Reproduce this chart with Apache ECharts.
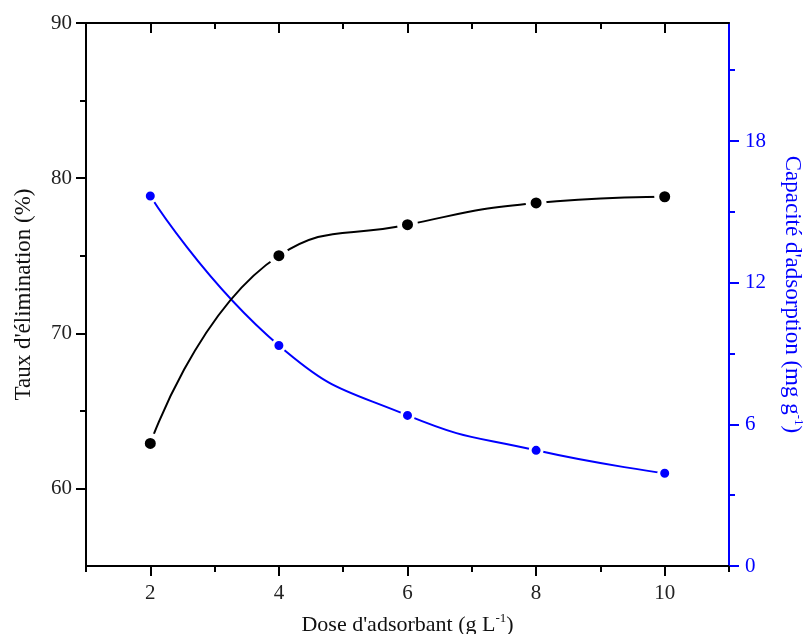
<!DOCTYPE html>
<html>
<head>
<meta charset="utf-8">
<script src="https://cdn.jsdelivr.net/npm/echarts@6/dist/echarts.min.js"></script>
<style>
html,body{margin:0;padding:0;background:#fff;}
#chart{width:807px;height:634px;}
</style>
</head>
<body>
<div id="chart"></div>
<script>
// ---- data ----
const doses = [2, 4, 6, 8, 10];
const removalRate = [62.9, 75.0, 77.0, 78.4, 78.8];
const adsorptionCapacity = [15.67, 9.34, 6.38, 4.9, 3.93];

// ---- tick labels ----
const xTickValues = [2, 4, 6, 8, 10];
const xMinorTickValues = [1, 3, 5, 7, 9, 11];
const leftTickValues = [60, 70, 80, 90];
const leftMinorTickValues = [65, 75, 85];
const rightTickValues = [0, 6, 12, 18];
const rightMinorTickValues = [3, 9, 15, 21];

const FONT = 'Liberation Serif';
const BLUE = '#0000ff';

const chart = echarts.init(document.getElementById('chart'), null, {renderer: 'canvas'});

function tickAxisBase(extra) {
  return Object.assign({
    type: 'value',
    splitLine: {show: false},
    axisLine: {show: false, onZero: false},
    axisLabel: {show: false}
  }, extra);
}

const option = {
  animation: false,
  backgroundColor: '#fff',
  grid: {left: 86, right: 78, top: 23, bottom: 68, containLabel: false, outerBoundsMode: 'none'},
  xAxis: [
    {
      type: 'value', min: 1, max: 11, position: 'bottom',
      splitLine: {show: false},
      axisLine: {show: true, onZero: false, lineStyle: {color: '#000', width: 2}},
      axisTick: {show: true, customValues: xTickValues, length: 10, lineStyle: {color: '#000', width: 2}},
      axisLabel: {show: true, customValues: xTickValues, margin: 17, color: '#222', fontFamily: FONT, fontSize: 21},
      name: '{n|Dose d\'adsorbant (g L}{s|-1}{n|)}',
      nameLocation: 'middle', nameGap: 46,
      nameTextStyle: {
        rich: {
          n: {fontFamily: FONT, fontSize: 22, color: '#111', lineHeight: 24, verticalAlign: 'bottom'},
          s: {fontFamily: FONT, fontSize: 13, color: '#111', lineHeight: 24, verticalAlign: 'top', padding: [0, 0, 10, 0]}
        }
      }
    },
    tickAxisBase({min: 1, max: 11, position: 'bottom',
      axisTick: {show: true, customValues: xMinorTickValues, length: 6, lineStyle: {color: '#000', width: 2}}}),
    {
      type: 'value', min: 1, max: 11, position: 'top',
      splitLine: {show: false},
      axisLine: {show: true, onZero: false, lineStyle: {color: '#000', width: 2}},
      axisTick: {show: true, inside: true, customValues: xTickValues, length: 10, lineStyle: {color: '#000', width: 2}},
      axisLabel: {show: false}
    },
    tickAxisBase({min: 1, max: 11, position: 'top',
      axisTick: {show: true, inside: true, customValues: xMinorTickValues.slice(1, -1), length: 6, lineStyle: {color: '#000', width: 2}}})
  ],
  yAxis: [
    {
      type: 'value', min: 55, max: 90, position: 'left',
      splitLine: {show: false},
      axisLine: {show: true, onZero: false, lineStyle: {color: '#000', width: 2}},
      axisTick: {show: true, customValues: leftTickValues, length: 10, lineStyle: {color: '#000', width: 2}},
      axisLabel: {show: true, customValues: leftTickValues, margin: 14, color: '#222', fontFamily: FONT, fontSize: 21},
      name: 'Taux d\'élimination (%)',
      nameLocation: 'middle', nameGap: 51,
      nameTextStyle: {fontFamily: FONT, fontSize: 23, color: '#111'}
    },
    tickAxisBase({min: 55, max: 90, position: 'left',
      axisTick: {show: true, customValues: leftMinorTickValues, length: 6, lineStyle: {color: '#000', width: 2}}}),
    {
      type: 'value', min: 0, max: 23, position: 'right',
      splitLine: {show: false},
      axisLine: {show: true, onZero: false, lineStyle: {color: BLUE, width: 2}},
      axisTick: {show: true, customValues: rightTickValues, length: 10, lineStyle: {color: BLUE, width: 2}},
      axisLabel: {show: true, customValues: rightTickValues, margin: 16, color: BLUE, fontFamily: FONT, fontSize: 21},
      name: '{n|Capacité d\'adsorption (mg g}{s|-1}{n|)}',
      nameLocation: 'middle', nameGap: 52, nameRotate: -90,
      nameTextStyle: {
        rich: {
          n: {fontFamily: FONT, fontSize: 23, color: BLUE, lineHeight: 24, verticalAlign: 'bottom'},
          s: {fontFamily: FONT, fontSize: 13, color: BLUE, lineHeight: 24, verticalAlign: 'top', padding: [0, 0, 10, 0]}
        }
      }
    },
    tickAxisBase({min: 0, max: 23, position: 'right',
      axisTick: {show: true, customValues: rightMinorTickValues, length: 6, lineStyle: {color: BLUE, width: 2}}})
  ],
  series: [
    {
      name: 'Taux',
      type: 'line',
      xAxisIndex: 0, yAxisIndex: 0,
      data: doses.map((d, i) => [d, removalRate[i]]),
      smooth: 0.5,
      symbol: 'circle', symbolSize: 16,
      lineStyle: {color: '#000', width: 2},
      itemStyle: {color: '#000', borderColor: '#fff', borderWidth: 5},
      z: 3
    },
    {
      name: 'Capacité',
      type: 'line',
      xAxisIndex: 0, yAxisIndex: 2,
      data: doses.map((d, i) => [d, adsorptionCapacity[i]]),
      smooth: 0.5,
      symbol: 'circle', symbolSize: 12,
      lineStyle: {color: BLUE, width: 2},
      itemStyle: {color: BLUE, borderColor: '#fff', borderWidth: 3},
      z: 2
    }
  ]
};
chart.setOption(option);
</script>
</body>
</html>
